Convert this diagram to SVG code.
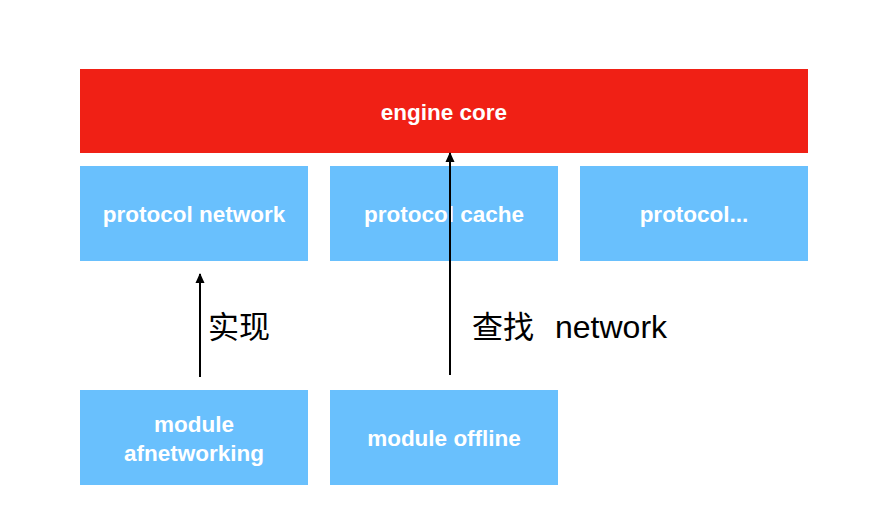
<svg xmlns="http://www.w3.org/2000/svg" width="883" height="529" viewBox="0 0 883 529">
<style>
.box{fill:#69c0fd}
.core{fill:#f02015}
.t{font-family:"Liberation Sans",Arial,sans-serif;font-weight:bold;font-size:22.5px;fill:#fff;text-anchor:middle}
.lbl{font-family:"Liberation Sans","Noto Sans CJK SC",sans-serif;font-size:31px;fill:#000}
.edge{stroke:#000;stroke-width:2;fill:none;marker-end:url(#ah)}
</style>
<defs>
<marker id="ah" markerWidth="10" markerHeight="10" refX="9" refY="5" orient="auto" markerUnits="userSpaceOnUse">
<path d="M0,0.5 L10,5 L0,9.5 Z" fill="#000"/>
</marker>
</defs>
<rect width="883" height="529" fill="#fff"/>
<g id="engine-core"><rect class="core" x="80" y="69" width="728" height="84"/><text class="t" x="444" y="120">engine core</text></g>
<g id="protocol-network"><rect class="box" x="80" y="166" width="228" height="95"/><text class="t" x="194" y="222">protocol network</text></g>
<g id="protocol-cache"><rect class="box" x="330" y="166" width="228" height="95"/><text class="t" x="444" y="222">protocol cache</text></g>
<g id="protocol-more"><rect class="box" x="580" y="166" width="228" height="95"/><text class="t" x="694" y="222">protocol...</text></g>
<g id="module-afnetworking"><rect class="box" x="80" y="390" width="228" height="95"/><text class="t" x="194" y="432">module</text><text class="t" x="194" y="461">afnetworking</text></g>
<g id="module-offline"><rect class="box" x="330" y="390" width="228" height="95"/><text class="t" x="444" y="446">module offline</text></g>
<g id="connectors">
<line class="edge" x1="200" y1="377" x2="200" y2="274"/>
<line class="edge" x1="450" y1="375" x2="450" y2="153"/>
<text class="lbl" x="208" y="338">实现</text>
<text class="lbl" x="472" y="338">查找<tspan x="555" font-size="32">network</tspan></text>
</g>
</svg>
